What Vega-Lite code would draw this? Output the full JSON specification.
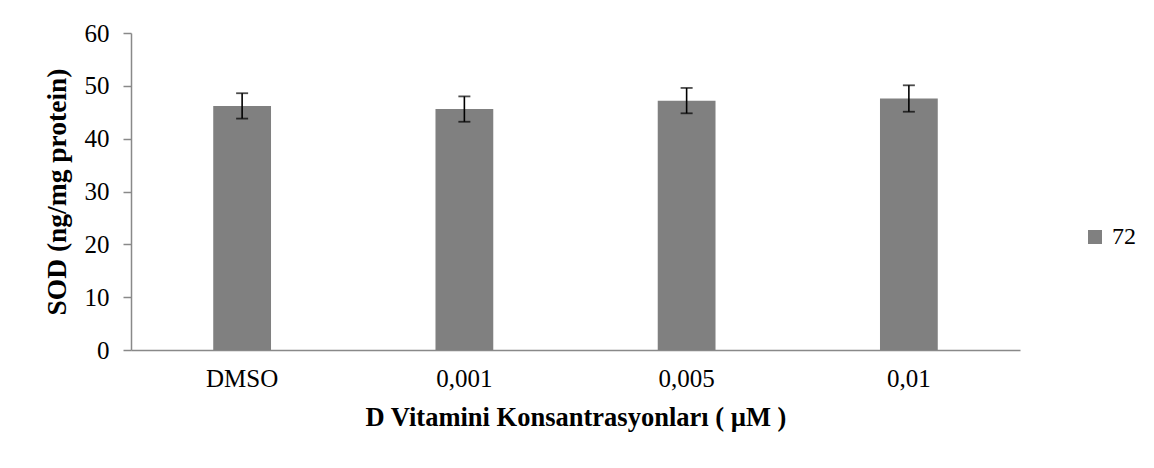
{
  "$schema": "https://vega.github.io/schema/vega-lite/v6.json",
  "autosize": "none",
  "padding": {"left": 131, "top": 33, "right": 134, "bottom": 118},
  "width": 889,
  "height": 317,
  "background": "white",
  "config": {
    "font": "Liberation Serif",
    "view": {"stroke": null}
  },
  "data": {
    "values": [
      {"konsantrasyon": "DMSO", "seri": "72", "sod": 46.2, "alt": 43.8, "ust": 48.6},
      {"konsantrasyon": "0,001", "seri": "72", "sod": 45.6, "alt": 43.2, "ust": 48.0},
      {"konsantrasyon": "0,005", "seri": "72", "sod": 47.2, "alt": 44.8, "ust": 49.6},
      {"konsantrasyon": "0,01", "seri": "72", "sod": 47.6, "alt": 45.1, "ust": 50.1}
    ]
  },
  "encoding": {
    "x": {
      "field": "konsantrasyon",
      "type": "nominal",
      "sort": null,
      "scale": {"paddingInner": 0.74, "paddingOuter": 0.37},
      "axis": {
        "title": "D Vitamini Konsantrasyonları ( µM )",
        "titleFont": "Liberation Serif",
        "titleFontSize": 26.5,
        "titleFontWeight": "bold",
        "titleColor": "black",
        "titlePadding": 13,
        "labelAngle": 0,
        "labelFont": "Liberation Serif",
        "labelFontSize": 25,
        "labelColor": "black",
        "labelPadding": 16,
        "ticks": false,
        "domainColor": "#898989",
        "domainWidth": 1.5
      }
    }
  },
  "layer": [
    {
      "mark": {"type": "bar", "color": "#808080"},
      "encoding": {
        "y": {
          "field": "sod",
          "type": "quantitative",
          "scale": {"domain": [0, 60]},
          "axis": {
            "title": "SOD (ng/mg protein)",
            "titleFont": "Liberation Serif",
            "titleFontSize": 27.5,
            "titleFontWeight": "bold",
            "titleColor": "black",
            "titlePadding": 13,
            "values": [0, 10, 20, 30, 40, 50, 60],
            "grid": false,
            "labelFont": "Liberation Serif",
            "labelFontSize": 25,
            "labelColor": "black",
            "labelPadding": 14,
            "tickSize": 8,
            "tickColor": "#898989",
            "tickWidth": 1.5,
            "domainColor": "#898989",
            "domainWidth": 1.5
          }
        },
        "color": {
          "field": "seri",
          "type": "nominal",
          "scale": {"range": ["#808080"]},
          "legend": {
            "title": null,
            "orient": "none",
            "legendX": 952,
            "legendY": 192,
            "symbolType": "square",
            "symbolSize": 196,
            "symbolStrokeWidth": 0,
            "labelFont": "Liberation Serif",
            "labelFontSize": 24,
            "labelColor": "black",
            "labelOffset": 5
          }
        }
      }
    },
    {
      "mark": {"type": "rule", "color": "black", "strokeWidth": 1.6},
      "encoding": {
        "y": {"field": "alt", "type": "quantitative"},
        "y2": {"field": "ust"}
      }
    },
    {
      "mark": {"type": "tick", "color": "black", "thickness": 1.8, "size": 12, "orient": "horizontal"},
      "encoding": {
        "y": {"field": "alt", "type": "quantitative"}
      }
    },
    {
      "mark": {"type": "tick", "color": "black", "thickness": 1.8, "size": 12, "orient": "horizontal"},
      "encoding": {
        "y": {"field": "ust", "type": "quantitative"}
      }
    }
  ]
}
